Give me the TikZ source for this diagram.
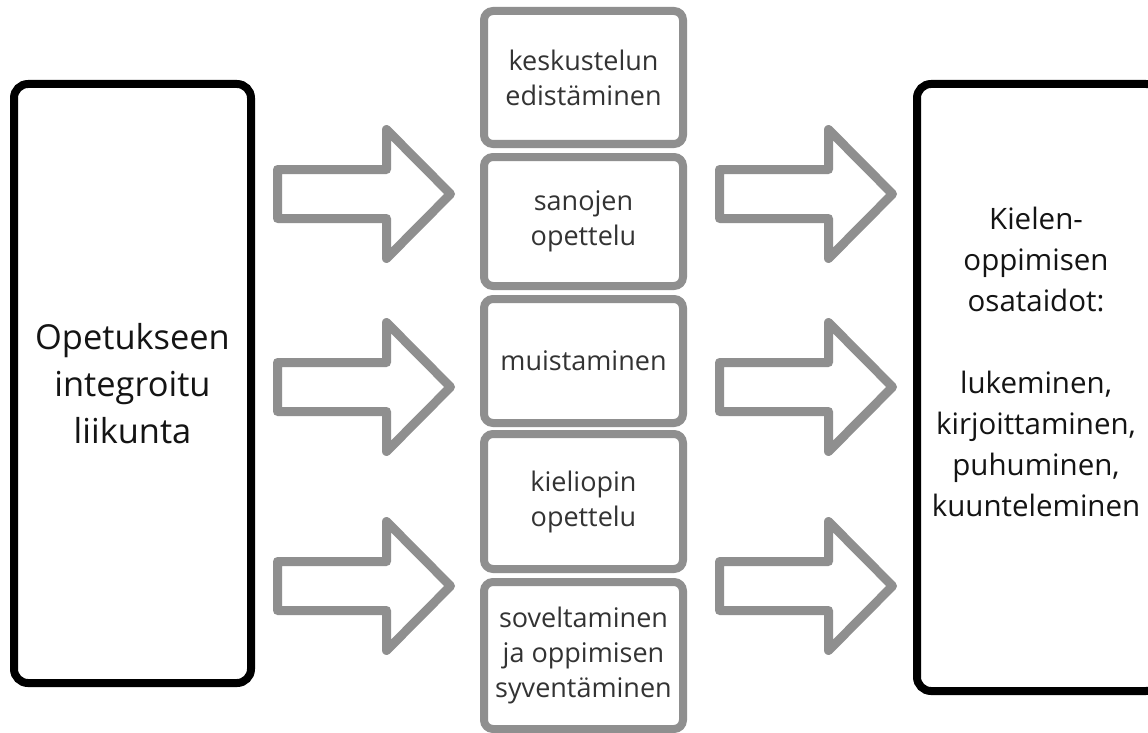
\documentclass[tikz,border=0pt]{standalone}
\usepackage{fontspec}
\setmainfont{Open Sans}
\definecolor{arrgray}{HTML}{8F8F8F}
\definecolor{midtext}{HTML}{333333}
\definecolor{bigtext}{HTML}{141414}
\begin{document}
\begin{tikzpicture}[x=1pt,y=-1pt,
  bigbox/.style={draw=black,line width=8pt,rounded corners=14pt,inner sep=0pt},
  midbox/.style={draw=arrgray,line width=8pt,rounded corners=9pt,inner sep=0pt,
    minimum width=199pt,text=midtext,align=center,font=\fontsize{27}{35}\selectfont},
  bigfont/.style={text=bigtext,align=center,inner sep=0pt},
  blockarrow/.pic={\draw[draw=arrgray,line width=9pt,line join=round]
     (0,-24.5) -- (109,-24.5) -- (109,-64.5) -- (173,0) -- (109,64.5) -- (109,24.5) -- (0,24.5) -- cycle;}
]
\clip (0,0) rectangle (1148,733);
\fill[white] (0,0) rectangle (1148,733);
% left box
\node[bigbox,minimum width=237pt,minimum height=599pt] (src) at (132.5,383.5) {};
\node[bigfont,font=\fontsize{34.4}{47}\selectfont] (srctext) at (src.center) {Opetukseen\\integroitu\\liikunta};
% right box
\node[bigbox,minimum width=243pt,minimum height=607pt] (dst) at (1038.5,387.5) {};
\node[bigfont,font=\fontsize{29.5}{41}\selectfont] (dsttext) at (1036,362) {Kielen-\\oppimisen\\osataidot:\\[41pt]lukeminen,\\kirjoittaminen,\\puhuminen,\\kuunteleminen};
% middle boxes
\node[midbox,minimum height=133pt] (m1) at (583.5,77.5) {keskustelun\\edistäminen};
\node[midbox,minimum height=129pt] (m2) at (583.5,221.5) {sanojen\\opettelu};
\node[midbox,minimum height=124pt] (m3) at (583.5,361) {muistaminen};
\node[midbox,minimum height=135pt] (m4) at (583.5,501.5) {kieliopin\\opettelu};
\node[midbox,minimum height=147pt] (m5) at (583.5,655.5) {soveltaminen\\ja oppimisen\\syventäminen};
% block arrows
\foreach \yy in {194,387,586}{
  \pic at (277.5,\yy) {blockarrow};
  \pic at (719.5,\yy) {blockarrow};
}
\end{tikzpicture}
\end{document}
